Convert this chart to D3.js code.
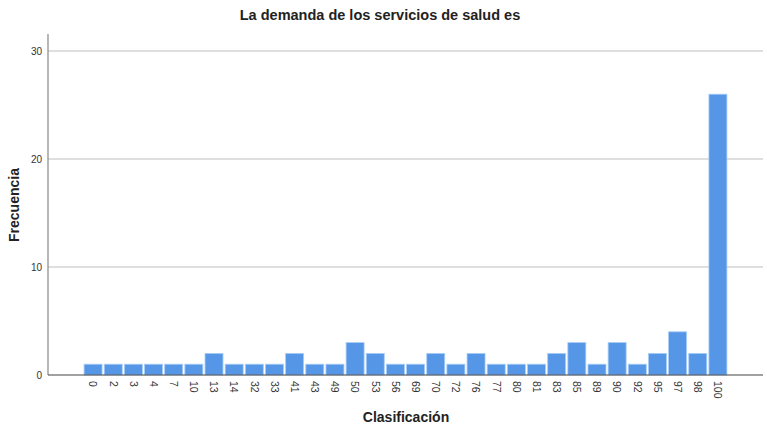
<!DOCTYPE html>
<html>
<head>
<meta charset="utf-8">
<script src="https://cdn.jsdelivr.net/npm/d3@7"></script>
<style>
  body { margin: 0; background: #fff; }
  text { font-family: "Liberation Sans", Arial, sans-serif; }
</style>
</head>
<body>
<div id="chart"></div>
<script>
const categories = ["0","2","3","4","7","10","13","14","32","33","41","43","49","50","53","56",
  "69","70","72","76","77","80","81","83","85","89","90","92","95","97","98","100"];
const counts = [1,1,1,1,1,1,2,1,1,1,2,1,1,3,2,1,1,2,1,2,1,1,1,2,3,1,3,1,2,4,2,26];
const yTicks = [0, 10, 20, 30];

const width = 767, height = 434;
const left = 48, right = 763, bottom = 375;

const svg = d3.select("#chart").append("svg")
  .attr("width", width).attr("height", height);

const x = d3.scaleBand()
  .domain(categories)
  .range([left, right])
  .paddingInner(0.107)
  .paddingOuter(1.79);

const y = d3.scaleLinear().domain([0, 30]).range([bottom, 51]);

// gridlines
svg.append("g")
  .selectAll("line")
  .data(yTicks.filter(d => d > 0))
  .enter().append("line")
  .attr("x1", left).attr("x2", right)
  .attr("y1", d => y(d)).attr("y2", d => y(d))
  .attr("stroke", "#d4d4d4").attr("stroke-width", 1.5);

// bars
svg.append("g")
  .selectAll("rect")
  .data(categories)
  .enter().append("rect")
  .attr("x", d => x(d))
  .attr("y", (d, i) => y(counts[i]))
  .attr("width", x.bandwidth())
  .attr("height", (d, i) => y(0) - y(counts[i]))
  .attr("fill", "#5597e6")
  .attr("stroke", "#a9cdf7")
  .attr("stroke-width", 0.8);

// y axis
const yAxis = svg.append("g")
  .attr("transform", `translate(${left},0)`)
  .call(d3.axisLeft(y).tickValues(yTicks).tickSize(0).tickPadding(6));
yAxis.select(".domain").remove();
yAxis.selectAll("text").attr("font-size", 10).attr("fill", "#333")
  .style("font-family", "'Liberation Sans', Arial, sans-serif");
svg.append("line")
  .attr("x1", left).attr("x2", left)
  .attr("y1", 34).attr("y2", bottom)
  .attr("stroke", "#888").attr("stroke-width", 1.2);

// x axis
const xAxis = svg.append("g")
  .attr("transform", `translate(0,${bottom})`)
  .call(d3.axisBottom(x).tickSize(0).tickPadding(0));
xAxis.select(".domain").remove();
xAxis.selectAll("text")
  .attr("font-size", 10.5).attr("fill", "#333")
  .style("font-family", "'Liberation Sans', Arial, sans-serif")
  .attr("text-anchor", "start")
  .attr("dy", "0.35em")
  .attr("transform", "translate(0,6) rotate(90)")
  .attr("y", 0).attr("x", 0);
svg.append("line")
  .attr("x1", left).attr("x2", right)
  .attr("y1", bottom).attr("y2", bottom)
  .attr("stroke", "#444").attr("stroke-width", 1.2);

// title
svg.append("text")
  .attr("x", 380).attr("y", 20)
  .attr("text-anchor", "middle")
  .attr("font-size", 14.5).attr("font-weight", "bold").attr("fill", "#222")
  .text("La demanda de los servicios de salud es");

// axis labels
svg.append("text")
  .attr("x", 406).attr("y", 422)
  .attr("text-anchor", "middle")
  .attr("font-size", 14).attr("font-weight", "bold").attr("fill", "#222")
  .text("Clasificación");

svg.append("text")
  .attr("transform", "translate(19,205) rotate(-90)")
  .attr("text-anchor", "middle")
  .attr("font-size", 14).attr("font-weight", "bold").attr("fill", "#222")
  .text("Frecuencia");
</script>
</body>
</html>
